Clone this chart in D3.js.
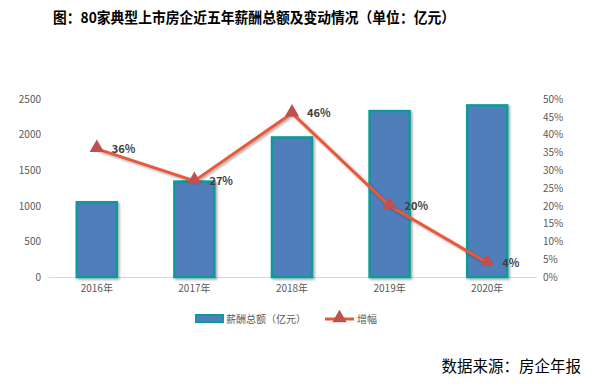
<!DOCTYPE html>
<html>
<head>
<meta charset="utf-8">
<script src="https://cdn.jsdelivr.net/npm/d3@7"></script>
<style>
  body { margin: 0; background: #fff; }
  svg { display: block; }
</style>
</head>
<body>
<svg id="chart" width="600" height="384"></svg>
<script>
var years = ['2016年', '2017年', '2018年', '2019年', '2020年'];
var salaryTotal = [1050, 1340, 1960, 2330, 2410];
var growthRate = [0.36, 0.27, 0.46, 0.20, 0.04];
var leftTicks = [0, 500, 1000, 1500, 2000, 2500];
var rightTicks = [0, 0.05, 0.10, 0.15, 0.20, 0.25, 0.30, 0.35, 0.40, 0.45, 0.50];

var svg = d3.select('#chart');
var font = '"Noto Sans CJK SC", "Noto Sans", sans-serif';

var x = d3.scaleBand().domain(years).range([48, 536]).paddingInner(0.59).paddingOuter(0.295);
var yL = d3.scaleLinear().domain([0, 2500]).range([277, 99]);
var yR = d3.scaleLinear().domain([0, 0.5]).range([277, 99]);

// title
svg.append('text')
    .attr('x', 254).attr('y', 23)
    .attr('text-anchor', 'middle')
    .attr('textLength', 402)
    .attr('lengthAdjust', 'spacingAndGlyphs')
    .style('font-family', font)
    .style('font-weight', 'bold')
    .style('font-size', '14.5px')
    .style('fill', '#000')
    .text('图：80家典型上市房企近五年薪酬总额及变动情况（单位：亿元）');

// shadow
var defs = svg.append('defs');
var f = defs.append('filter').attr('id', 'shadow').attr('x', '-20%').attr('y', '-20%').attr('width', '150%').attr('height', '150%');
f.append('feDropShadow').attr('dx', 1.5).attr('dy', 1.5).attr('stdDeviation', 1.2).attr('flood-color', '#000').attr('flood-opacity', 0.35);

// left axis
var axL = svg.append('g').attr('transform', 'translate(48,0)')
    .call(d3.axisLeft(yL).tickValues(leftTicks).tickSize(0).tickPadding(7).tickFormat(d3.format('d')));
axL.select('.domain').remove();
axL.selectAll('text').style('font-family', font).style('font-size', '10px').style('fill', '#595959');

// right axis
var axR = svg.append('g').attr('transform', 'translate(536,0)')
    .call(d3.axisRight(yR).tickValues(rightTicks).tickSize(0).tickPadding(7).tickFormat(d3.format('.0%')));
axR.select('.domain').remove();
axR.selectAll('text').style('font-family', font).style('font-size', '10px').style('fill', '#595959');

// x axis
var axX = svg.append('g').attr('transform', 'translate(0,277)')
    .call(d3.axisBottom(x).tickSize(0).tickPadding(8));
axX.select('.domain').attr('stroke', '#d9d9d9');
axX.selectAll('text').style('font-family', font).style('font-size', '10px').style('fill', '#595959');

// bars
svg.append('g').selectAll('rect')
    .data(salaryTotal)
    .enter()
    .append('rect')
    .attr('x', function(d, i){ return x(years[i]); })
    .attr('y', function(d){ return yL(d); })
    .attr('width', x.bandwidth())
    .attr('height', function(d){ return yL(0) - yL(d); })
    .attr('fill', '#4f7ebb')
    .attr('stroke', '#0e9a9a')
    .attr('stroke-width', 2.5)
    .attr('filter', 'url(#shadow)');

// line
var cx = function(i){ return x(years[i]) + x.bandwidth() / 2; };
var line = d3.line()
    .x(function(d, i){ return cx(i); })
    .y(function(d){ return yR(d); });

svg.append('path')
    .datum(growthRate)
    .attr('d', line)
    .attr('fill', 'none')
    .attr('stroke', '#e8583b')
    .attr('stroke-width', 3)
    .attr('filter', 'url(#shadow)');

var tri = d3.symbol().type(d3.symbolTriangle).size(90);
svg.append('g').selectAll('path')
    .data(growthRate)
    .enter()
    .append('path')
    .attr('d', tri)
    .attr('transform', function(d, i){ return 'translate(' + cx(i) + ',' + (yR(d) - 1) + ')'; })
    .attr('fill', '#c0504d');

svg.append('g').selectAll('text')
    .data(growthRate)
    .enter()
    .append('text')
    .attr('x', function(d, i){ return cx(i) + 15; })
    .attr('y', function(d){ return yR(d) + 4; })
    .style('font-family', font)
    .style('font-weight', 'bold')
    .style('font-size', '11px')
    .style('fill', '#404040')
    .text(function(d){ return d3.format('.0%')(d); });

// legend
var lg = svg.append('g');
lg.append('rect').attr('x', 196).attr('y', 315).attr('width', 27).attr('height', 7)
    .attr('fill', '#4f7ebb').attr('stroke', '#0e9a9a').attr('stroke-width', 2);
lg.append('text').attr('x', 226).attr('y', 323)
    .style('font-family', font).style('font-size', '10px').style('fill', '#595959')
    .text('薪酬总额（亿元）');
lg.append('line').attr('x1', 325).attr('x2', 354).attr('y1', 319).attr('y2', 319)
    .attr('stroke', '#e8583b').attr('stroke-width', 3);
lg.append('path').attr('d', tri).attr('transform', 'translate(339.5,318)').attr('fill', '#c0504d');
lg.append('text').attr('x', 357).attr('y', 323)
    .style('font-family', font).style('font-size', '10px').style('fill', '#595959')
    .text('增幅');

// source
svg.append('text')
    .attr('x', 581).attr('y', 372)
    .attr('text-anchor', 'end')
    .style('font-family', font)
    .style('font-size', '15.5px')
    .style('fill', '#000')
    .text('数据来源：房企年报');
</script>
</body>
</html>
